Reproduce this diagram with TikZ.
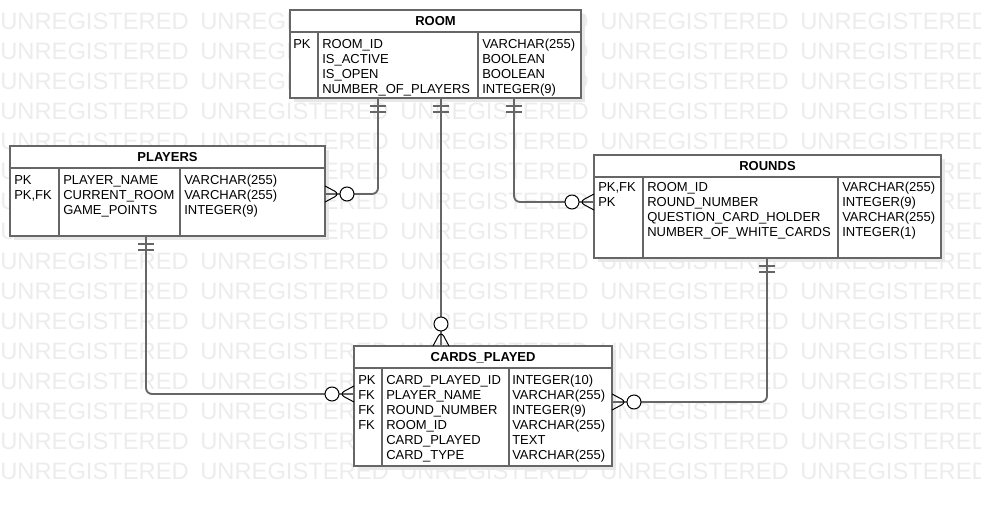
\documentclass[tikz,border=0pt]{standalone}
\usepackage{fontspec}
\setmainfont{Liberation Sans}
\usetikzlibrary{fit,shadows,decorations.markings}

\definecolor{linec}{RGB}{102,102,102}
\definecolor{wmc}{RGB}{236,236,236}

\tikzset{
  tbl/.style={rectangle, draw=linec, fill=white, line width=1.4pt, inner sep=0pt, outer sep=0pt,
    drop shadow={shadow xshift=3pt, shadow yshift=-3pt, fill=black!9, opacity=1}},
  tline/.style={draw=linec, line width=1.4pt},
  dline/.style={draw=linec, line width=1pt},
  ttl/.style={anchor=base, inner sep=0pt, font=\fontsize{9.75pt}{11.25pt}\selectfont\bfseries},
  fld/.style={anchor=base west, inner sep=0pt, font=\fontsize{9.75pt}{11.25pt}\selectfont},
  wmark/.style={anchor=base west, inner sep=0pt, text=wmc, font=\fontsize{17.8pt}{20pt}\selectfont},
  conn/.style={draw=linec, line width=1.4pt, rounded corners=4.5pt},
  bar/.style={draw=linec, line width=1.1pt},
  crow/.style={draw=black, line width=0.75pt},
  onefrom/.style={postaction={decorate, decoration={markings,
      mark=at position 6pt with {\draw[bar] (0,-8) -- (0,8);},
      mark=at position 10.5pt with {\draw[bar] (0,-8) -- (0,8);}}}},
  manyto/.style={postaction={decorate, decoration={markings,
      mark=at position -11.25pt with {\draw[crow] (15,8) -- (0,0) -- (15,-8);},
      mark=at position -16.5pt with {\draw[crow, fill=white] (0,0) circle (7);}}}},
}

\begin{document}
\begin{tikzpicture}[x=0.75pt, y=-0.75pt]
  \useasboundingbox (0,0) rectangle (981,506);

  % watermark
  \begin{scope}
    \clip (0,0) rectangle (981,506);
    \foreach \i in {0,...,4}
      \foreach \j in {0,...,15}
        \node[wmark] (wm\i-\j) at (200*\i, 29.5+30*\j) {UNREGISTERED};
  \end{scope}

  % ROOM table
  \node[tbl, fit={(290,10) (581,98)}] (room) {};
  \draw[tline] (290,32) -- (581,32);
  \draw[dline] (318,32) -- (318,98);
  \draw[dline] (478,32) -- (478,98);
  \node[ttl] (room-t) at (435.5,25.6) {ROOM};
  \node[fld] (room-k1) at (293,48.6) {PK};
  \foreach \t [count=\i] in {ROOM\_ID, IS\_ACTIVE, IS\_OPEN, NUMBER\_OF\_PLAYERS}
    \node[fld] (room-n\i) at (322,33.6+15*\i) {\t};
  \foreach \t [count=\i] in {VARCHAR(255), BOOLEAN, BOOLEAN, INTEGER(9)}
    \node[fld] (room-d\i) at (482,33.6+15*\i) {\t};

  % PLAYERS table
  \node[tbl, fit={(10,146) (325,236)}] (players) {};
  \draw[tline] (10,168) -- (325,168);
  \draw[dline] (59,168) -- (59,236);
  \draw[dline] (180,168) -- (180,236);
  \node[ttl] (players-t) at (167.5,161.6) {PLAYERS};
  \foreach \t [count=\i] in {PK, {PK,FK}}
    \node[fld] (players-k\i) at (14,169.6+15*\i) {\t};
  \foreach \t [count=\i] in {PLAYER\_NAME, CURRENT\_ROOM, GAME\_POINTS}
    \node[fld] (players-n\i) at (63,169.6+15*\i) {\t};
  \foreach \t [count=\i] in {VARCHAR(255), VARCHAR(255), INTEGER(9)}
    \node[fld] (players-d\i) at (184,169.6+15*\i) {\t};

  % ROUNDS table
  \node[tbl, fit={(594,155) (941,258)}] (rounds) {};
  \draw[tline] (594,177) -- (941,177);
  \draw[dline] (643,177) -- (643,258);
  \draw[dline] (838,177) -- (838,258);
  \node[ttl] (rounds-t) at (767.5,170.6) {ROUNDS};
  \foreach \t [count=\i] in {{PK,FK}, PK}
    \node[fld] (rounds-k\i) at (598,176.6+15*\i) {\t};
  \foreach \t [count=\i] in {ROOM\_ID, ROUND\_NUMBER, QUESTION\_CARD\_HOLDER, NUMBER\_OF\_WHITE\_CARDS}
    \node[fld] (rounds-n\i) at (647,176.6+15*\i) {\t};
  \foreach \t [count=\i] in {VARCHAR(255), INTEGER(9), VARCHAR(255), INTEGER(1)}
    \node[fld] (rounds-d\i) at (842,176.6+15*\i) {\t};

  % CARDS_PLAYED table
  \node[tbl, fit={(354,346) (612,466)}] (cards) {};
  \draw[tline] (354,368) -- (612,368);
  \draw[dline] (382,368) -- (382,466);
  \draw[dline] (509,368) -- (509,466);
  \node[ttl] (cards-t) at (483,361.6) {CARDS\_PLAYED};
  \foreach \t [count=\i] in {PK, FK, FK, FK}
    \node[fld] (cards-k\i) at (358,369.6+15*\i) {\t};
  \foreach \t [count=\i] in {CARD\_PLAYED\_ID, PLAYER\_NAME, ROUND\_NUMBER, ROOM\_ID, CARD\_PLAYED, CARD\_TYPE}
    \node[fld] (cards-n\i) at (386,369.6+15*\i) {\t};
  \foreach \t [count=\i] in {INTEGER(10), VARCHAR(255), INTEGER(9), VARCHAR(255), TEXT, VARCHAR(255)}
    \node[fld] (cards-d\i) at (512,369.6+15*\i) {\t};

  % Relations
  \draw[conn, onefrom, manyto] (room.south -| 378,0) |- (players.east |- 0,194);
  \draw[conn, onefrom, manyto] (room.south -| 441,0) -- (cards.north -| 441,0);
  \draw[conn, onefrom, manyto] (room.south -| 514,0) |- (rounds.west |- 0,202);
  \draw[conn, onefrom, manyto] (players.south -| 146,0) |- (cards.west |- 0,394);
  \draw[conn, onefrom, manyto] (rounds.south -| 767,0) |- (cards.east |- 0,402);
\end{tikzpicture}
\end{document}
